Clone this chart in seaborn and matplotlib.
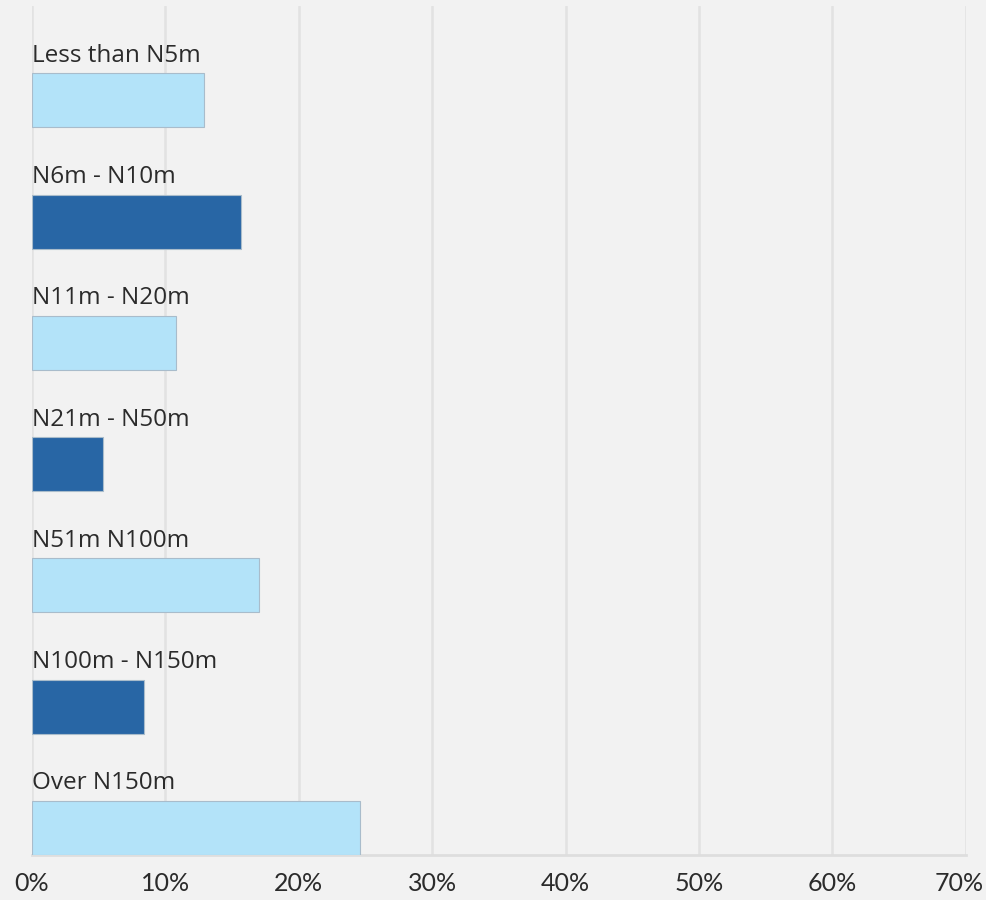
import numpy as np
import pandas as pd
import seaborn as sns
from matplotlib import pyplot as plt
from matplotlib.transforms import ScaledTranslation

categories = ['Less than N5m', 'N6m - N10m', 'N11m - N20m', 'N21m - N50m',
              'N51m N100m', 'N100m - N150m', 'Over N150m']
shares = [12.9, 15.7, 10.8, 5.3, 17.0, 8.4, 24.6]
bar_colors = ['#b3e3f9', '#2866a5', '#b3e3f9', '#2866a5', '#b3e3f9', '#2866a5', '#b3e3f9']
x_ticks = [0, 10, 20, 30, 40, 50, 60, 70]

df = pd.DataFrame({'category': categories, 'share': shares})

sns.set_style('white')
plt.rcParams['font.family'] = ['Lato', 'DejaVu Sans']

fig = plt.figure(figsize=(9.86, 9.0), dpi=100, facecolor='#f2f2f2')
ax = fig.add_axes((0.0325, 0.05, 0.947, 0.9433))
ax.set_facecolor('#f2f2f2')

bw = 0.445
sns.barplot(data=df, x='share', y='category', hue='category', palette=bar_colors,
            legend=False, orient='h', width=bw, edgecolor='#a9bccb', linewidth=0.8,
            saturation=1, ax=ax, zorder=3)

n = len(categories)
ax.set_ylim(n - 1 + bw / 2, -1 + bw / 2)
ax.set_xlim(0, 70)
ax.set_xticks(x_ticks, labels=[f'{v}%' for v in x_ticks])
ax.set_yticks([])
ax.set(xlabel='', ylabel='')

ax.grid(axis='x', color='#e2e2e2', lw=1.8, zorder=0)
ax.set_axisbelow(True)
for s in ['top', 'right', 'left']:
    ax.spines[s].set_visible(False)
ax.spines['bottom'].set_color('#dedede')
ax.spines['bottom'].set_linewidth(2)
ax.tick_params(axis='x', length=0, pad=12, labelsize=18, labelcolor='#2b2b2b')

# last tick label sits a little inside the edge, like the original
last = ax.get_xticklabels()[-1]
last.set_transform(last.get_transform() + ScaledTranslation(-7 / 100, 0, fig.dpi_scale_trans))

for i, cat in enumerate(categories):
    ax.text(0, i - bw / 2 - 0.096, cat, fontsize=17.5, color='#2b2b2b',
            family=['Open Sans', 'DejaVu Sans'], va='baseline', ha='left', zorder=4)

fig.savefig('out.png', dpi=100, facecolor=fig.get_facecolor())
